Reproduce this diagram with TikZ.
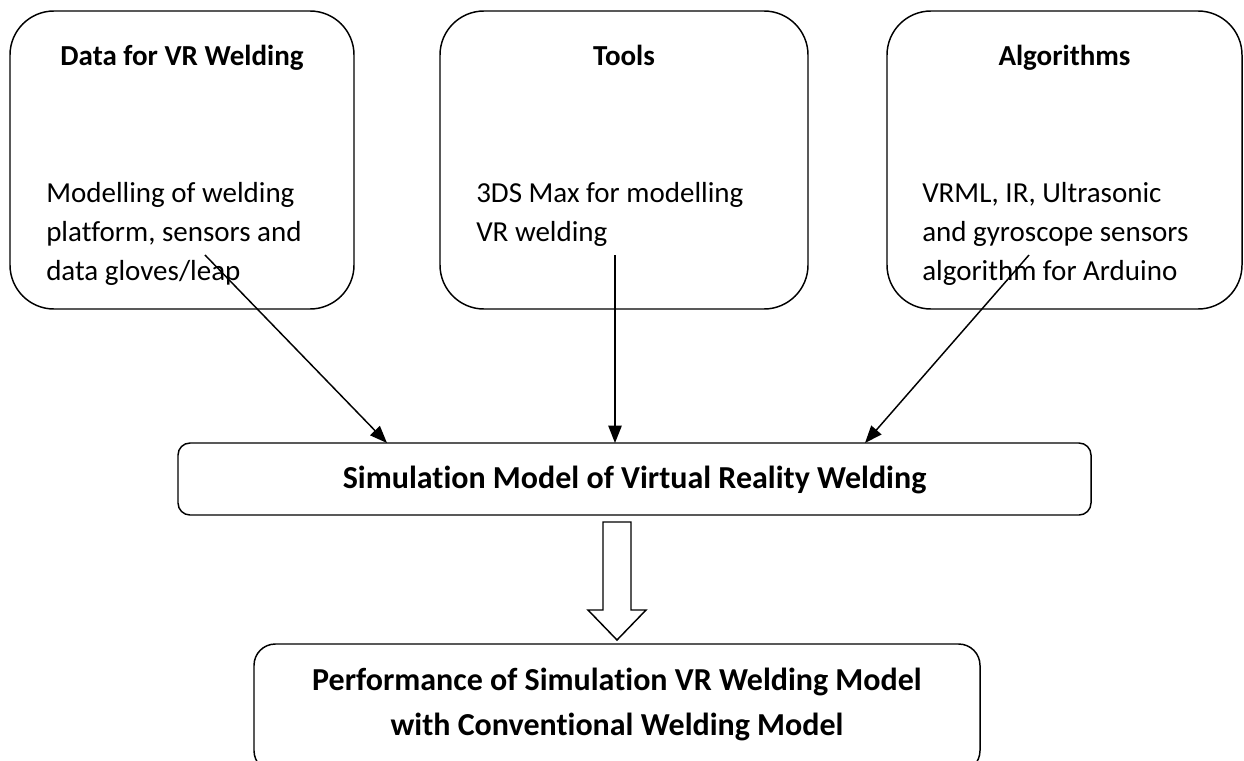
\documentclass[tikz,border=0pt]{standalone}
\usepackage{fontspec}
\setmainfont{Carlito}[Ligatures={NoCommon,NoContextual}]
\usetikzlibrary{arrows.meta}
\tikzset{
  bigbox/.style={draw=black, line width=1.1pt, rounded corners=33pt, inner sep=0pt, outer sep=0pt},
  midbox/.style={draw=black, line width=1.1pt, rounded corners=9pt, inner sep=0pt, outer sep=0pt},
  lowbox/.style={draw=black, line width=1.1pt, rounded corners=16pt, inner sep=0pt, outer sep=0pt},
  titletext/.style={font=\fontsize{21.75pt}{29pt}\selectfont\bfseries, inner sep=0pt, anchor=base},
  largetext/.style={font=\fontsize{24pt}{30pt}\selectfont\bfseries, inner sep=0pt, anchor=base},
  bodytext/.style={font=\fontsize{21.75pt}{29pt}\selectfont, inner sep=0pt, anchor=base west},
  feed/.style={line width=1.1pt, -{Triangle[length=13pt,width=10pt]}},
  hollow/.style={draw=black, fill=white, line width=1.1pt, line join=miter}
}
\begin{document}
\begin{tikzpicture}[x=0.75pt, y=-0.75pt]
\useasboundingbox (0,0) rectangle (1244,760);
% top boxes
\node[bigbox, minimum width=258pt, minimum height=223.5pt] (data) at (182,160) {};
\node[bigbox, minimum width=276pt, minimum height=223.5pt] (tools) at (624,160) {};
\node[bigbox, minimum width=266.25pt, minimum height=223.5pt] (algo) at (1064.5,160) {};
% titles
\node[titletext] (datat) at (182,65) {Data for VR Welding};
\node[titletext] (toolst) at (624,65) {Tools};
\node[titletext] (algot) at (1064.5,65) {Algorithms};
% body texts (clipped at the bottom as in the original)
\begin{scope}
\clip (0,0) rectangle (1244,284);
\node[bodytext] (d1) at (46,202) {Modelling of welding};
\node[bodytext] (d2) at (46,241) {platform, sensors and};
\node[bodytext] (d3) at (46,280) {data gloves/leap};
\node[bodytext] (t1) at (476,202) {3DS Max for modelling};
\node[bodytext] (t2) at (476,241) {VR welding};
\node[bodytext] (a1) at (922,202) {VRML, IR, Ultrasonic};
\node[bodytext] (a2) at (922,241) {and gyroscope sensors};
\node[bodytext] (a3) at (922,280) {algorithm for Arduino};
\end{scope}
% middle box
\node[midbox, minimum width=684.75pt, minimum height=54pt] (sim) at (634.5,479) {};
\node[largetext] (simt) at (634.5,488) {Simulation Model of Virtual Reality Welding};
% bottom box
\node[lowbox, minimum width=544.5pt, minimum height=96pt] (perf) at (617,708) {};
\node[largetext] (perf1) at (617,690) {Performance of Simulation VR Welding Model};
\node[largetext] (perf2) at (617,735) {with Conventional Welding Model};
% connectors
\coordinate (s1) at (205,255);
\coordinate (s2) at (615,255);
\coordinate (s3) at (1029,255);
\coordinate (e1) at (387,443);
\coordinate (e2) at (615,443);
\coordinate (e3) at (865,443);
\draw[feed] (s1) -- (e1);
\draw[feed] (s2) -- (e2);
\draw[feed] (s3) -- (e3);
% hollow block arrow
\draw[hollow] (603,522) -- (631,522) -- (631,610) -- (646,610) -- (617,640) -- (588,610) -- (603,610) -- cycle;
\end{tikzpicture}
\end{document}
